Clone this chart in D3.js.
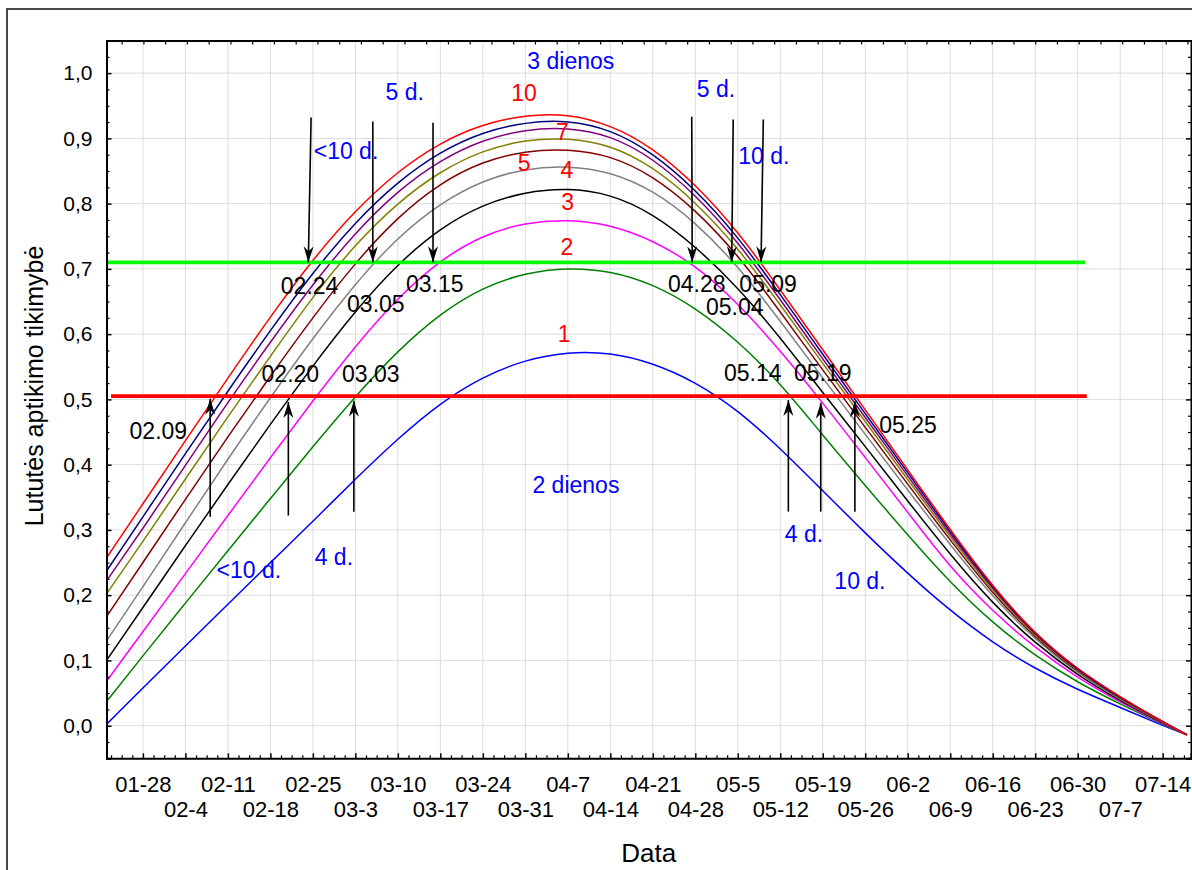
<!DOCTYPE html>
<html>
<head>
<meta charset="utf-8">
<script src="https://cdn.jsdelivr.net/npm/d3@7"></script>
<style>
  html, body { margin: 0; padding: 0; background: #fff; }
  svg { display: block; font-family: "Liberation Sans", Arial, Helvetica, sans-serif; }
</style>
</head>
<body>
<svg id="chart" width="1192" height="870"></svg>
<script>
// Sampling dates of the detection-probability curves (2008 season)
const sampleDates = ["2008-01-22","2008-01-28","2008-02-04","2008-02-11","2008-02-18","2008-02-25",
  "2008-03-03","2008-03-10","2008-03-17","2008-03-24","2008-03-31","2008-04-07","2008-04-14",
  "2008-04-21","2008-04-28","2008-05-05","2008-05-12","2008-05-19","2008-05-26","2008-06-02",
  "2008-06-09","2008-06-16","2008-06-23","2008-06-30","2008-07-07","2008-07-14","2008-07-18"];

// Number of inspection days for each curve
const seriesDays = [1, 2, 3, 4, 5, 6, 7, 8, 9, 10];

// Detection probability per curve at the sampling dates
const p1  = [0.002,0.058,0.122,0.186,0.250,0.313,0.378,0.440,0.495,0.535,0.561,0.573,0.572,0.556,0.527,0.484,0.425,0.360,0.295,0.233,0.176,0.127,0.087,0.055,0.028,0.000,-0.014];
const p2  = [0.037,0.107,0.188,0.268,0.348,0.428,0.505,0.575,0.632,0.672,0.694,0.702,0.697,0.677,0.641,0.590,0.525,0.445,0.368,0.292,0.219,0.157,0.107,0.066,0.033,0.002,-0.014];
const p3  = [0.068,0.144,0.233,0.322,0.411,0.498,0.582,0.656,0.714,0.752,0.771,0.776,0.768,0.744,0.706,0.648,0.575,0.495,0.411,0.327,0.242,0.175,0.119,0.073,0.036,0.003,-0.014];
const p4  = [0.100,0.181,0.276,0.370,0.462,0.552,0.636,0.708,0.763,0.799,0.818,0.824,0.815,0.785,0.735,0.672,0.595,0.510,0.428,0.344,0.262,0.187,0.126,0.077,0.038,0.004,-0.014];
const p5  = [0.130,0.213,0.311,0.409,0.503,0.594,0.678,0.749,0.801,0.836,0.854,0.858,0.849,0.821,0.772,0.705,0.620,0.533,0.446,0.361,0.277,0.197,0.131,0.080,0.040,0.005,-0.014];
const p6  = [0.167,0.250,0.347,0.443,0.536,0.626,0.710,0.780,0.832,0.865,0.881,0.884,0.874,0.843,0.791,0.722,0.634,0.545,0.457,0.370,0.284,0.202,0.134,0.082,0.041,0.005,-0.014];
const p7  = [0.202,0.282,0.378,0.474,0.566,0.658,0.738,0.802,0.850,0.882,0.898,0.901,0.890,0.857,0.803,0.733,0.645,0.555,0.466,0.377,0.289,0.206,0.136,0.083,0.041,0.005,-0.014];
const p8  = [0.222,0.302,0.399,0.496,0.588,0.677,0.756,0.820,0.867,0.898,0.914,0.917,0.905,0.870,0.814,0.742,0.653,0.562,0.472,0.383,0.293,0.209,0.138,0.084,0.042,0.006,-0.014];
const p9  = [0.237,0.320,0.417,0.513,0.606,0.695,0.772,0.834,0.880,0.910,0.925,0.928,0.914,0.878,0.822,0.750,0.661,0.569,0.478,0.388,0.297,0.211,0.139,0.085,0.043,0.006,-0.014];
const p10 = [0.257,0.340,0.437,0.533,0.627,0.715,0.790,0.850,0.894,0.922,0.936,0.938,0.921,0.886,0.830,0.758,0.668,0.576,0.484,0.392,0.300,0.213,0.140,0.086,0.044,0.006,-0.014];
const seriesValues = [p1, p2, p3, p4, p5, p6, p7, p8, p9, p10];

const seriesColors = ["#0000ff","#008000","#ff00ff","#000000","#808080",
                      "#800000","#808000","#800080","#000080","#ff0000"];

// Y tick labels
const yTicks = [0.0, 0.1, 0.2, 0.3, 0.4, 0.5, 0.6, 0.7, 0.8, 0.9, 1.0];

// Threshold levels drawn across the season
const thresholds = [
  { value: 0.710, from: "2008-01-22T00:00", to: "2008-07-01T05:00", color: "#00ff00" },
  { value: 0.505, from: "2008-01-22T18:00", to: "2008-07-01T12:00", color: "#ff0000" }
];

// Arrows marking threshold crossings: start (date, value) -> tip (date, value)
const arrows = [
  ["2008-02-24T17:00", 0.932, "2008-02-24T06:00", 0.710],
  ["2008-03-05T21:00", 0.926, "2008-03-05T21:00", 0.710],
  ["2008-03-15T19:00", 0.924, "2008-03-15T19:00", 0.710],
  ["2008-04-27T10:00", 0.933, "2008-04-27T12:00", 0.710],
  ["2008-05-04T06:00", 0.929, "2008-05-04T00:00", 0.710],
  ["2008-05-09T05:00", 0.929, "2008-05-08T20:00", 0.710],
  ["2008-02-08T02:00", 0.320, "2008-02-08T02:00", 0.501],
  ["2008-02-20T23:00", 0.322, "2008-02-20T23:00", 0.496],
  ["2008-03-02T18:00", 0.328, "2008-03-02T18:00", 0.498],
  ["2008-05-13T08:00", 0.328, "2008-05-13T08:00", 0.499],
  ["2008-05-18T16:00", 0.328, "2008-05-18T16:00", 0.495],
  ["2008-05-24T07:00", 0.328, "2008-05-24T07:00", 0.497]
];

// Text notes anchored at (date, value); value is the baseline
const notes = [
  ["3 dienos", "2008-04-07T12:00", 1.007, "#0000ff"],
  ["10",       "2008-03-30T19:00", 0.958, "#ff0000"],
  ["7",        "2008-04-06T03:00", 0.897, "#ff0000"],
  ["5",        "2008-03-30T19:00", 0.850, "#ff0000"],
  ["4",        "2008-04-06T20:00", 0.839, "#ff0000"],
  ["3",        "2008-04-06T23:00", 0.790, "#ff0000"],
  ["2",        "2008-04-06T20:00", 0.721, "#ff0000"],
  ["1",        "2008-04-06T09:00", 0.588, "#ff0000"],
  ["5 d.",     "2008-03-11T03:00", 0.959, "#0000ff"],
  ["<10 d.",   "2008-03-01T11:00", 0.869, "#0000ff"],
  ["5 d.",     "2008-05-01T10:00", 0.963, "#0000ff"],
  ["10 d.",    "2008-05-09T07:00", 0.861, "#0000ff"],
  ["02.24",    "2008-02-24T11:00", 0.662, "#000000"],
  ["03.05",    "2008-03-06T09:00", 0.634, "#000000"],
  ["03.15",    "2008-03-16T02:00", 0.665, "#000000"],
  ["04.28",    "2008-04-28T06:00", 0.665, "#000000"],
  ["05.09",    "2008-05-10T00:00", 0.665, "#000000"],
  ["05.04",    "2008-05-04T12:00", 0.629, "#000000"],
  ["02.20",    "2008-02-21T07:00", 0.527, "#000000"],
  ["03.03",    "2008-03-05T13:00", 0.527, "#000000"],
  ["05.14",    "2008-05-07T11:00", 0.528, "#000000"],
  ["05.19",    "2008-05-19T00:00", 0.528, "#000000"],
  ["05.25",    "2008-06-02T01:00", 0.449, "#000000"],
  ["02.09",    "2008-01-30T13:00", 0.440, "#000000"],
  ["2 dienos", "2008-04-08T08:00", 0.356, "#0000ff"],
  ["4 d.",     "2008-05-15T22:00", 0.282, "#0000ff"],
  ["10 d.",    "2008-05-25T03:00", 0.210, "#0000ff"],
  ["<10 d.",   "2008-02-14T11:00", 0.226, "#0000ff"],
  ["4 d.",     "2008-02-28T11:00", 0.246, "#0000ff"]
];

const xTitle = "Data";
const yTitle = "Lututės aptikimo tikimybė";

// ---------------------------------------------------------------
const parse = d3.isoParse;
const svg = d3.select("#chart");
const W = 1192, H = 870;
const plot = { left: 106.5, right: 1191, top: 40.5, bottom: 758.3 };

const x = d3.scaleTime()
  .domain([parse("2008-01-22T00:00"), parse("2008-07-18T16:00")])
  .range([plot.left, plot.right]);
const y = d3.scaleLinear()
  .domain([-0.05, 1.05])
  .range([plot.bottom, plot.top]);

const lt = d3.formatLocale({ decimal: ",", thousands: " ", grouping: [3], currency: ["", ""] });
const yFmt = lt.format(".1f");
const xFmt = d3.timeFormat("%m-%-d");

svg.append("rect").attr("width", W).attr("height", H).attr("fill", "#fff");

// outer figure frame
svg.append("rect")
  .attr("x", 7).attr("y", 9).attr("width", 1300).attr("height", 1000)
  .attr("fill", "none").attr("stroke", "#4a4a4a").attr("stroke-width", 2);

// weekly major ticks on Mondays, quarter-week minor ticks
const weeks = x.ticks(d3.timeMonday.every(1));
const [d0, d1] = x.domain();
const minorX = [];
weeks.concat([d3.timeMonday.offset(weeks[0], -1)]).forEach(w => {
  for (let k = 1; k <= 3; k++) {
    const t = d3.timeHour.offset(w, 42 * k);
    if (t > d0 && t < d1 && x(t) - plot.left > 2) minorX.push(t);
  }
});
// top edge carries its own evenly spaced ticks
const topTicks = [];
for (let t = d3.timeHour.offset(d0, 60); t < d1; t = d3.timeHour.offset(t, 86.4)) topTicks.push(t);
const minorY = d3.range(-0.025, 1.05, 0.025).filter(v => Math.abs(Math.round(v * 10) - v * 10) > 1e-6);

// grid
const grid = svg.append("g").attr("stroke", "#dcdcdc").attr("stroke-width", 1);
grid.selectAll("line.gx").data(weeks).join("line")
  .attr("x1", d => x(d)).attr("x2", d => x(d))
  .attr("y1", plot.top).attr("y2", plot.bottom);
grid.selectAll("line.gy").data(yTicks).join("line")
  .attr("x1", plot.left).attr("x2", plot.right)
  .attr("y1", d => y(d)).attr("y2", d => y(d));

// curves
const line = d3.line()
  .x((d, i) => x(parse(sampleDates[i])))
  .y(d => y(d))
  .curve(d3.curveBasis);

svg.append("g").selectAll("path").data(seriesValues).join("path")
  .attr("fill", "none")
  .attr("stroke", (d, i) => seriesColors[i])
  .attr("stroke-width", 1.5)
  .attr("d", d => line(d));

// threshold lines
svg.append("g").selectAll("line").data(thresholds).join("line")
  .attr("x1", d => x(parse(d.from))).attr("x2", d => x(parse(d.to)))
  .attr("y1", d => y(d.value)).attr("y2", d => y(d.value))
  .attr("stroke", d => d.color).attr("stroke-width", 3.8);

// arrows
svg.append("defs").append("marker")
  .attr("id", "head").attr("markerUnits", "userSpaceOnUse")
  .attr("viewBox", "-16 -6 17 12").attr("refX", 0).attr("refY", 0)
  .attr("markerWidth", 17).attr("markerHeight", 12).attr("orient", "auto")
  .append("path").attr("d", "M0,0 L-16,-5 L-11,0 L-16,5 Z").attr("fill", "#000");

svg.append("g").selectAll("line").data(arrows).join("line")
  .attr("x1", d => x(parse(d[0]))).attr("y1", d => y(d[1]))
  .attr("x2", d => x(parse(d[2]))).attr("y2", d => y(d[3]))
  .attr("stroke", "#000").attr("stroke-width", 1.6)
  .attr("marker-end", "url(#head)");

// notes
svg.append("g").selectAll("text").data(notes).join("text")
  .attr("x", d => x(parse(d[1]))).attr("y", d => y(d[2]))
  .attr("text-anchor", "middle").attr("font-size", 23)
  .attr("fill", d => d[3]).text(d => d[0]);

// axes
function styleAxis(g) {
  g.select(".domain").attr("stroke", "#000").attr("stroke-width", 2);
  g.selectAll(".tick line").attr("stroke", "#000").attr("stroke-width", 1.5);
}
function minorAxis(axis, vals, transform, size) {
  const g = svg.append("g").attr("transform", transform)
    .call(axis.tickValues(vals).tickSize(-size).tickFormat(""));
  g.select(".domain").remove();
  g.selectAll(".tick line").attr("stroke", "#000").attr("stroke-width", 1.2);
}

minorAxis(d3.axisBottom(x), minorX, `translate(0,${plot.bottom})`, 3);
minorAxis(d3.axisTop(x), topTicks, `translate(0,${plot.top})`, 4);
minorAxis(d3.axisLeft(y), minorY, `translate(${plot.left},0)`, 3);
minorAxis(d3.axisRight(y), minorY, `translate(${plot.right},0)`, 3);

const gx = svg.append("g").attr("transform", `translate(0,${plot.bottom})`)
  .call(d3.axisBottom(x).tickValues(weeks).tickSize(-5).tickPadding(18).tickFormat(xFmt));
styleAxis(gx);
gx.selectAll(".tick text")
  .attr("font-size", 22).attr("font-family", null).attr("fill", "#000")
  .attr("y", (d, i) => i % 2 === 0 ? 18 : 43.5);

const gt = svg.append("g").attr("transform", `translate(0,${plot.top})`)
  .call(d3.axisTop(x).tickValues([]).tickSize(0).tickFormat(""));
styleAxis(gt);

const gy = svg.append("g").attr("transform", `translate(${plot.left},0)`)
  .call(d3.axisLeft(y).tickValues(yTicks).tickSize(-5).tickPadding(14).tickFormat(yFmt));
styleAxis(gy);
gy.selectAll(".tick text").attr("font-size", 21).attr("font-family", null).attr("fill", "#000");

const gr = svg.append("g").attr("transform", `translate(${plot.right},0)`)
  .call(d3.axisRight(y).tickValues(yTicks).tickSize(-5).tickFormat(""));
styleAxis(gr);

// axis titles
svg.append("text")
  .attr("x", (plot.left + plot.right) / 2).attr("y", 861.5)
  .attr("text-anchor", "middle").attr("font-size", 26).attr("fill", "#000")
  .text(xTitle);
svg.append("text")
  .attr("transform", `translate(43,386) rotate(-90)`)
  .attr("text-anchor", "middle").attr("font-size", 25).attr("fill", "#000")
  .text(yTitle);
</script>
</body>
</html>
